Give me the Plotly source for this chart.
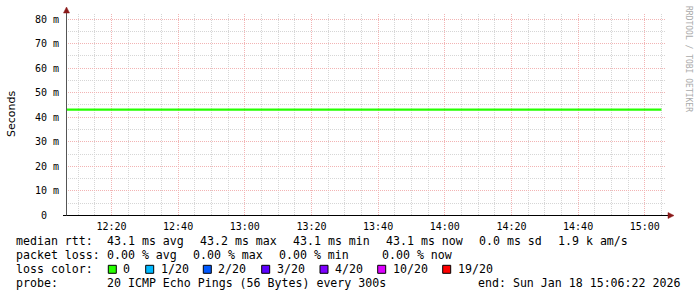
import plotly.graph_objects as go
import pandas as pd

# ---------------- data ----------------
step_times = pd.date_range("2026-01-18 12:05:00", "2026-01-18 15:05:00", freq="5min")
median_rtt_ms = [43.1, 43.1, 43.1, 43.1, 43.1, 43.1, 43.1, 43.1, 43.1, 43.1,
                 43.1, 43.1, 43.1, 43.1, 43.1, 43.1, 43.1, 43.1, 43.1, 43.1,
                 43.1, 43.1, 43.1, 43.1, 43.1, 43.1, 43.1, 43.1, 43.1, 43.1,
                 43.1, 43.1, 43.1, 43.1, 43.1, 43.1, 43.1]
y_tick_values = [0, 10, 20, 30, 40, 50, 60, 70, 80]
y_tick_labels = ["0\u00a0\u00a0", "10 m", "20 m", "30 m", "40 m", "50 m", "60 m", "70 m", "80 m"]
x_start = "2026-01-18 12:06:22"
x_end = "2026-01-18 15:06:22"

loss_labels = ["0", "1/20", "2/20", "3/20", "4/20", "10/20", "19/20"]
loss_colors = ["#26ff00", "#00b8ff", "#0059ff", "#5e00ff", "#7e00ff", "#dd00ff", "#ff0000"]

rtt_items = ["median rtt:", "43.1 ms avg", "43.2 ms max", "43.1 ms min", "43.1 ms now",
             "0.0 ms sd", "1.9 k am/s"]
loss_items = ["packet loss:", "0.00 % avg", "0.00 % max", "0.00 % min", "0.00 % now"]
probe_items = ["probe:", "20 ICMP Echo Pings (56 Bytes) every 300s"]
end_text = "end: Sun Jan 18 15:06:22 2026"

# ---------------- layout helpers (pixels) ----------------
W, H = 697, 297
L, R, T, B = 66, 31, 14, 81
PW, PH = W - L - R, H - T - B


def px(x):
    return (x - L) / PW


def py(y):
    return (H - B - y) / PH


MONO = "DejaVu Sans Mono"
MAJOR = "#f2b4b4"
MINOR = "#d6d6d6"

fig = go.Figure()
fig.add_trace(go.Scatter(
    x=step_times, y=median_rtt_ms, mode="lines", line_shape="hv",
    line=dict(color=loss_colors[0], width=2.2), hoverinfo="skip", showlegend=False))

s = (215.5 - 19) / 80.0
ymin = -0.5 / s
ymax = (215.5 - T) / s

fig.update_layout(
    width=W, height=H, margin=dict(l=L, r=R, t=T, b=B),
    paper_bgcolor="white", plot_bgcolor="white", showlegend=False,
    font=dict(family=MONO, color="#000000", size=10),
    xaxis=dict(range=[x_start, x_end], type="date", tickformat="%H:%M",
               tick0="2026-01-18 12:00:00", dtick=20 * 60 * 1000,
               showgrid=True, gridcolor=MAJOR, griddash="1px,1px", gridwidth=1,
               minor=dict(dtick=5 * 60 * 1000, tick0="2026-01-18 12:00:00", showgrid=True,
                          gridcolor=MINOR, griddash="1px,1px", gridwidth=1),
               showline=False, zeroline=False, ticks="", ticklabelstandoff=3,
               tickfont=dict(family=MONO, size=10, color="#000000"), fixedrange=True),
    yaxis=dict(range=[ymin, ymax], tickvals=y_tick_values, ticktext=y_tick_labels,
               showgrid=True, gridcolor=MAJOR, griddash="1px,1px", gridwidth=1,
               minor=dict(dtick=5, tick0=0, showgrid=True, gridcolor=MINOR,
                          griddash="1px,1px", gridwidth=1),
               showline=False, zeroline=False, ticks="", ticklabelstandoff=6,
               tickfont=dict(family=MONO, size=10, color="#000000"), fixedrange=True),
)

shapes = []
# x axis line + arrow
shapes.append(dict(type="line", xref="paper", yref="paper", x0=px(63), x1=px(668),
                   y0=py(215.5), y1=py(215.5), line=dict(color="#000000", width=1)))
shapes.append(dict(type="path", xref="paper", yref="paper",
                   path=f"M {px(668)},{py(212.5)} L {px(674)},{py(215.5)} L {px(668)},{py(218.5)} Z",
                   fillcolor="#8b1a1a", line=dict(color="#8b1a1a", width=0.5)))
# y axis line + arrow
shapes.append(dict(type="line", xref="paper", yref="paper", x0=px(66.5), x1=px(66.5),
                   y0=py(215.5), y1=py(12), line=dict(color="#555555", width=1)))
shapes.append(dict(type="path", xref="paper", yref="paper",
                   path=f"M {px(63.5)},{py(13)} L {px(66.5)},{py(7)} L {px(69.5)},{py(13)} Z",
                   fillcolor="#8b1a1a", line=dict(color="#8b1a1a", width=0.5)))

annotations = []


def text_at(x, y, t, size=11.6, family=MONO, color="#000000", anchor="left", angle=0):
    annotations.append(dict(xref="paper", yref="paper", x=px(x), y=py(y), text=t,
                            showarrow=False, xanchor=anchor, yanchor="middle",
                            textangle=angle, borderpad=0, borderwidth=0,
                            font=dict(family=family, size=size, color=color)))


# legend rows
rtt_x = [16, 106.7, 200, 293.3, 385.7, 479.3, 558.3]
for xx, t in zip(rtt_x, rtt_items):
    text_at(xx, 241.5, t)
loss_x = [16, 106.7, 193.3, 279.3, 382]
for xx, t in zip(loss_x, loss_items):
    text_at(xx, 255.3, t)
text_at(16, 269.3, "loss color:")
box_x = [108.3, 145.7, 203.3, 261.7, 320, 377.7, 442.7]
for bx, lab, col in zip(box_x, loss_labels, loss_colors):
    shapes.append(dict(type="rect", xref="paper", yref="paper", x0=px(bx), x1=px(bx + 8),
                       y0=py(265.3), y1=py(273.3), fillcolor=col,
                       line=dict(color="#000000", width=1)))
    text_at(bx + 15, 269.3, lab)
probe_x = [16, 106.7]
for xx, t in zip(probe_x, probe_items):
    text_at(xx, 283, t)
text_at(680, 283, end_text, anchor="right")

# axis title and watermark
text_at(11, 114, "Seconds", size=11, family="DejaVu Sans", angle=-90, anchor="center")
text_at(688, 59, "RRDTOOL / TOBI OETIKER", size=8, color="#aaaaaa", angle=90, anchor="center")

fig.update_layout(shapes=shapes, annotations=annotations)
fig.write_html("out.html")
